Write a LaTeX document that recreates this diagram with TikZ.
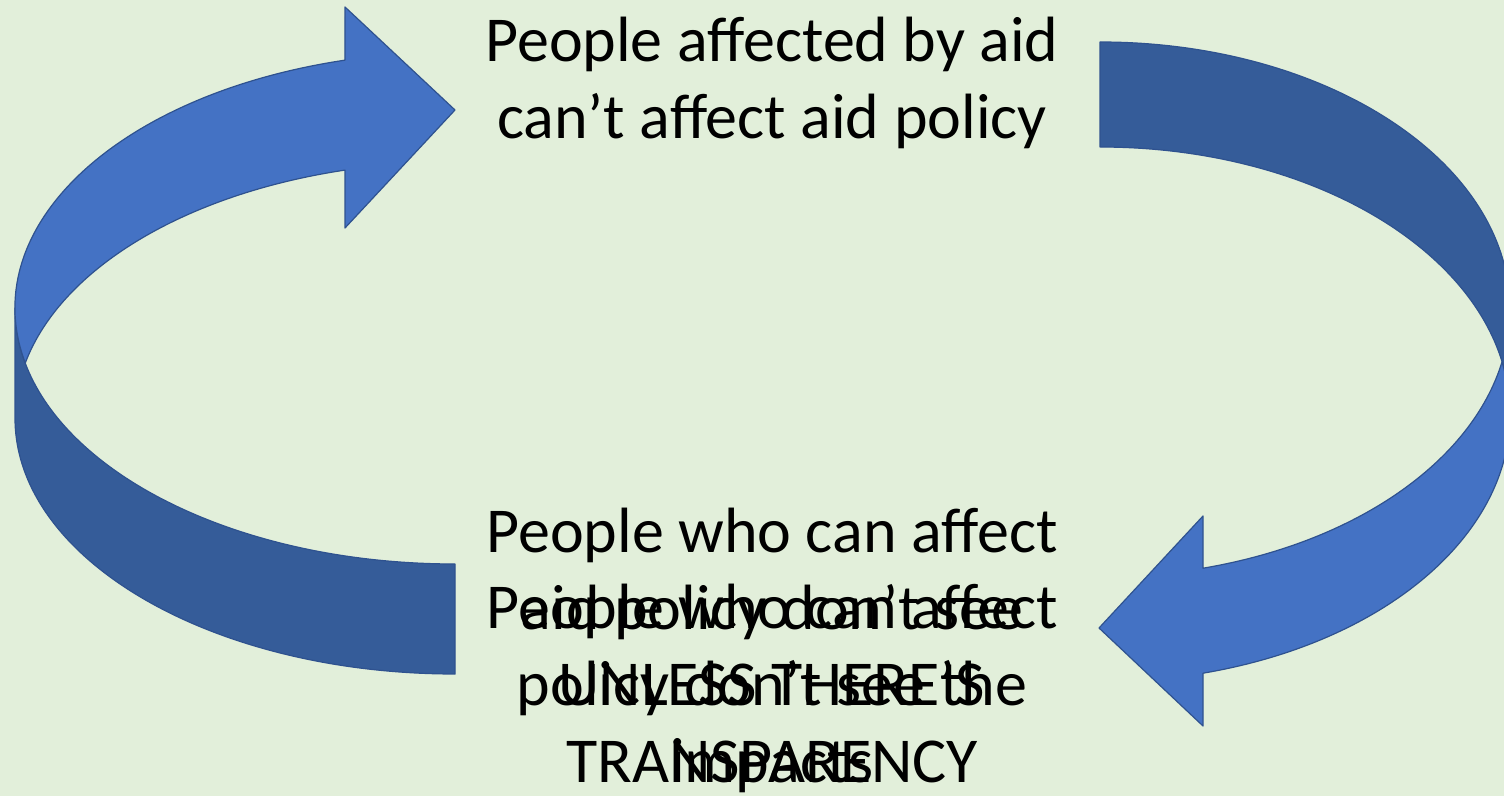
\documentclass[tikz,border=0pt]{standalone}
\usepackage{fontspec}
\setmainfont{Carlito}
\definecolor{bgcol}{HTML}{E2EFDA}
\definecolor{arrowfront}{HTML}{4472C4}
\definecolor{arrowback}{HTML}{355C99}
\definecolor{arrowline}{HTML}{2F528F}
\begin{document}
\begin{tikzpicture}[x=1pt,y=1pt,
  frontband/.style={fill=arrowfront,draw=arrowline,line width=1.2pt,line join=round},
  backband/.style={fill=arrowback,draw=arrowline,line width=1.2pt,line join=round},
  txt/.style={font=\fontsize{64}{77}\selectfont,align=center,inner sep=0pt,anchor=base,text=black}]
\fill[bgcol] (0,0) rectangle (1504,796);
\useasboundingbox (0,0) rectangle (1504,796);
\clip (0,0) rectangle (1504,796);

% left curved arrow: back face
\draw[backband] (15,488) -- (15,378)
  arc[start angle=180,end angle=270,x radius=440,y radius=256]
  -- (455,232)
  arc[start angle=270,end angle=180,x radius=440,y radius=256] -- cycle;
% left curved arrow: front face
\draw[frontband] (25.28,432.98)
  arc[start angle=192.41,end angle=104.48,x radius=440,y radius=256]
  -- (345,789) -- (455,686) -- (345,568) -- (345,625.9)
  arc[start angle=104.48,end angle=167.59,x radius=440,y radius=256] -- cycle;

% right curved arrow: back face
\draw[backband] (1100,754)
  arc[start angle=90,end angle=0,x radius=410,y radius=267.4]
  -- (1510,381.6)
  arc[start angle=0,end angle=90,x radius=410,y radius=267.4] -- cycle;
% right curved arrow: front face
\draw[frontband] (1502,434.1)
  arc[start angle=11.32,end angle=-75.45,x radius=410,y radius=267.4]
  -- (1203,70) -- (1099,168) -- (1203,280) -- (1203,227.8)
  arc[start angle=-75.45,end angle=-11.32,x radius=410,y radius=267.4] -- cycle;

\node[txt] (top) at (772,657) {People affected by aid\\can’t affect aid policy};
\node[txt] (botA) at (772,167) {People who can affect\\aid policy don’t see};
\node[txt] (botB) at (772,14) {People who can affect\\policy don’t see the\\impacts};
\node[txt] (botC) at (772,14) {UNLESS THERE’S\\TRANSPARENCY};
\end{tikzpicture}
\end{document}
